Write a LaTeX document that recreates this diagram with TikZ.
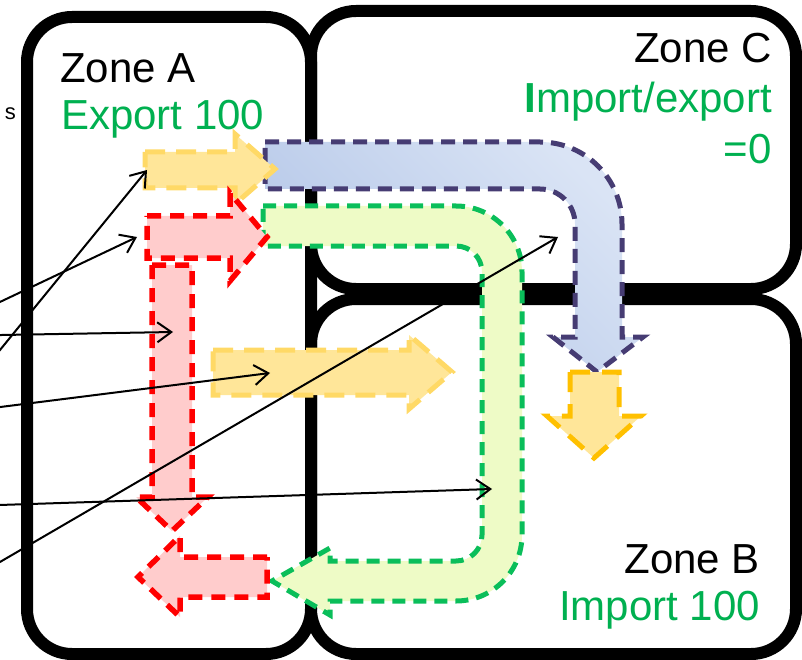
\documentclass[tikz,border=0pt]{standalone}
\usepackage{fontspec}
\setmainfont{Liberation Sans}
\usetikzlibrary{arrows.meta}

\definecolor{yelFill}{RGB}{255,230,153}
\definecolor{yelEdge}{RGB}{255,217,102}
\definecolor{ornEdge}{RGB}{255,192,0}
\definecolor{redFill}{RGB}{255,204,204}
\definecolor{redEdge}{RGB}{255,0,0}
\definecolor{grnFill}{RGB}{238,251,198}
\definecolor{grnEdge}{RGB}{10,190,90}
\definecolor{bluDark}{RGB}{178,197,231}
\definecolor{bluLight}{RGB}{218,228,245}
\definecolor{bluEdge}{RGB}{70,60,115}
\definecolor{txtGreen}{RGB}{0,176,80}

\tikzset{
  zone/.style={line width=12pt, rounded corners=45pt},
  flowbase/.style={line width=5pt, line join=miter},
  flowYel/.style={flowbase, fill=yelFill, draw=yelEdge, dash pattern=on 20pt off 11pt},
  flowOrn/.style={flowbase, fill=yelFill, draw=ornEdge, dash pattern=on 20pt off 12pt},
  flowRed/.style={flowbase, line width=5.5pt, fill=redFill, draw=redEdge, dash pattern=on 14pt off 9pt},
  flowGrn/.style={flowbase, fill=grnFill, draw=grnEdge, dash pattern=on 13pt off 8pt},
  flowBlu/.style={flowbase, draw=bluEdge, left color=bluDark, right color=bluLight,
                  shading angle=135, dash pattern=on 14pt off 8pt},
  pointer/.style={line width=2pt, -{Straight Barb[length=14pt,width=20pt]}},
  label/.style={font=\fontsize{42}{48}\selectfont, inner sep=0pt},
}

\begin{document}
\begin{tikzpicture}[x=1pt, y=-1pt]
\useasboundingbox (0,0) rectangle (802,660);

% zones
\draw[zone] (27,17) rectangle (311,654);
\draw[zone] (311,11) rectangle (796,289);
\draw[zone] (311,299) rectangle (796,654);

% zone captions
\node[label, anchor=base west] (zoneA) at (60,83) {Zone A};
\node[label, anchor=base west, text=txtGreen] (expA) at (61,130) {Export 100};
\node[label, anchor=base east] (zoneC) at (772,63) {Zone C};
\node[label, anchor=base east, text=txtGreen] (ieC) at (772,113) {{\bfseries I}mport/export};
\node[label, anchor=base east, text=txtGreen] (eqC) at (772,164) {=0};
\node[label, anchor=base east] (zoneB) at (760,573) {Zone B};
\node[label, anchor=base east, text=txtGreen] (impB) at (760,620) {Import 100};
\node[font=\fontsize{22}{26}\selectfont, inner sep=0pt, anchor=base east] (side) at (16,120) {s};

% blue flow A -> C -> B
\path[flowBlu] (265,142) -- (540,142) .. controls (585.3,142) and (622,178.7) .. (622,224)
  -- (622,337) -- (643,337) -- (597,372) -- (553,337) -- (575,337) -- (575,224)
  .. controls (575,204.7) and (559.3,189) .. (540,189) -- (265,189) -- cycle;

% green loop flow
\path[flowGrn] (263,206) -- (456,206) .. controls (492.5,206) and (522,235.5) .. (522,272)
  -- (522,535) .. controls (522,571.5) and (492.5,601) .. (456,601)
  -- (330,601) -- (330,615) -- (272,581) -- (330,548) -- (330,561) -- (456,561)
  .. controls (470.4,561) and (482,549.4) .. (482,535) -- (482,272)
  .. controls (482,257.6) and (470.4,246) .. (456,246) -- (263,246) -- cycle;

% yellow flow out of zone A
\path[flowYel] (145,152) -- (235,152) -- (235,134) -- (275,169) -- (235,204) -- (235,188) -- (145,188) -- cycle;

% red flows
\path[flowRed] (147,216) -- (230,216) -- (230,193) -- (267,237) -- (230,281) -- (230,258) -- (147,258) -- cycle;
\path[flowRed] (152,265) -- (192,265) -- (192,497) -- (208,497) -- (172,531) -- (136,497) -- (152,497) -- cycle;
\path[flowRed] (267,557) -- (180,557) -- (180,536) -- (138,577) -- (180,617) -- (180,597) -- (267,597) -- cycle;

% yellow flow A -> B
\path[flowYel] (213,350) -- (409,350) -- (409,335) -- (452,372) -- (409,409) -- (409,395) -- (213,395) -- cycle;

% yellow flow into zone B
\path[flowOrn] (570,372) -- (619,372) -- (619,416) -- (641,416) -- (594,458) -- (547,416) -- (570,416) -- cycle;

% pointer ends
\coordinate (pYtop) at (147,170);
\coordinate (pRtop) at (137,237);
\coordinate (pRver) at (173,332);
\coordinate (pYmid) at (270,373);
\coordinate (pGver) at (492,489);
\coordinate (pBcor) at (558,237);
\coordinate (sYtop) at (-10,362.2);
\coordinate (sRtop) at (-10,306.7);
\coordinate (sRver) at (-10,335.2);
\coordinate (sYmid) at (-10,408.3);
\coordinate (sGver) at (-10,505.3);
\coordinate (sBcor) at (-10,567.8);

\draw[pointer] (sYtop) -- (pYtop);
\draw[pointer] (sRtop) -- (pRtop);
\draw[pointer] (sRver) -- (pRver);
\draw[pointer] (sYmid) -- (pYmid);
\draw[pointer] (sGver) -- (pGver);
\draw[pointer] (sBcor) -- (pBcor);
\end{tikzpicture}
\end{document}
